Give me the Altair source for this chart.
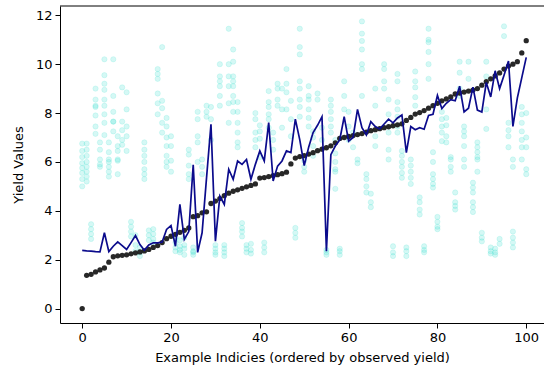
import altair as alt
import pandas as pd

# Observed yield per example, already sorted ascending (index 0..100)
observed_yield = [
    0.00, 1.36, 1.40, 1.50, 1.58, 1.66, 1.90, 2.12, 2.16, 2.18,
    2.20, 2.24, 2.28, 2.32, 2.36, 2.42, 2.50, 2.58, 2.70, 2.86,
    2.96, 3.04, 3.12, 3.20, 3.30, 3.76, 3.80, 3.92, 3.96, 4.30,
    4.40, 4.50, 4.62, 4.72, 4.80, 4.86, 4.92, 4.98, 5.04, 5.10,
    5.34, 5.36, 5.40, 5.44, 5.48, 5.52, 5.58, 5.92, 6.16, 6.22,
    6.26, 6.32, 6.38, 6.46, 6.52, 6.58, 6.66, 6.78, 6.96, 7.00,
    7.04, 7.08, 7.12, 7.16, 7.22, 7.28, 7.32, 7.36, 7.40, 7.44,
    7.48, 7.52, 7.56, 7.70, 7.82, 7.96, 8.02, 8.10, 8.20, 8.30,
    8.40, 8.50, 8.58, 8.66, 8.78, 8.82, 8.86, 8.90, 8.94, 9.00,
    9.14, 9.28, 9.40, 9.52, 9.64, 9.80, 9.92, 10.00, 10.10, 10.46,
    10.96,
]

# Mean predicted yield for the same examples
predicted_yield = [
    2.38, 2.36, 2.35, 2.33, 2.32, 3.10, 2.33, 2.55, 2.73, 2.58,
    2.42, 2.70, 2.99, 2.62, 2.39, 2.60, 2.69, 2.69, 2.72, 3.24,
    3.40, 2.55, 4.26, 2.83, 3.15, 5.88, 2.30, 3.10, 5.35, 7.54,
    2.76, 4.60, 4.26, 5.70, 5.29, 6.04, 5.90, 6.10, 5.29, 5.90,
    6.45, 6.04, 7.61, 5.22, 5.83, 6.04, 6.45, 6.38, 7.75, 6.90,
    5.85, 6.60, 7.20, 7.50, 7.85, 2.35, 6.30, 6.65, 6.90, 7.85,
    6.85, 7.00, 8.15, 7.40, 7.10, 7.65, 7.45, 7.35, 7.55, 7.75,
    7.60, 7.80, 7.92, 6.38, 7.45, 7.32, 7.40, 7.34, 7.90, 7.95,
    8.72, 8.18, 8.40, 8.55, 8.50, 9.10, 8.05, 8.20, 9.06, 8.12,
    8.04, 9.25, 8.66, 9.73, 9.00, 9.55, 10.13, 7.45, 8.62, 9.45,
    10.28,
]

# Individual predicted samples per example: (index, [values])
samples_low = [
    (0, [6.75, 6.45, 6.2, 5.95, 5.75, 5.55, 5.3, 5.0]),
    (1, [6.75, 6.5, 6.25, 6.0, 5.8, 5.6, 5.4, 5.2]),
    (2, [3.45, 3.25, 3.05, 2.85]),
    (3, [9.0, 8.55, 8.3, 8.25, 7.9, 7.45, 7.15]),
    (4, [6.8, 6.5, 6.1, 5.9, 5.8]),
    (5, [10.2, 9.55, 9.2, 8.95, 8.55, 8.3, 7.95, 7.6, 7.1]),
    (6, [6.8, 6.4, 6.1, 6.0, 5.8, 5.6, 5.4]),
    (7, [10.2, 8.7, 8.05, 7.65, 7.65, 7.25]),
    (8, [7.05, 6.65, 6.45, 6.1, 6.05, 5.5]),
    (9, [9.05, 7.65, 7.3, 6.9, 6.7]),
    (10, [8.85, 8.15, 7.45, 7.05, 6.45]),
    (11, [3.55, 3.35, 3.15, 2.95]),
    (12, [3.0, 2.6, 2.35]),
    (13, [2.5, 2.3, 2.15]),
    (14, [6.8, 6.5, 6.25, 6.0, 5.7, 5.5, 5.3]),
    (15, [3.2, 3.0, 2.8]),
    (16, [3.25, 3.05, 2.85, 2.7]),
    (17, [9.8, 9.6, 9.4, 8.8, 8.4, 7.95]),
    (18, [10.7, 8.5, 8.2, 7.6, 7.2]),
    (19, [7.8, 7.45, 7.0, 6.65, 6.25, 6.0, 5.8]),
    (20, [7.05, 6.65, 6.05, 5.6]),
    (21, [2.9, 2.7, 2.5, 2.35]),
    (22, [2.8, 2.55, 2.4, 2.3]),
    (23, [2.9, 2.6, 2.45, 2.2]),
    (24, [6.5, 6.3, 5.85, 5.5, 5.3]),
    (25, [2.5, 2.35, 2.3, 2.2]),
    (26, [8.05, 7.75, 7.05, 6.8, 6.0]),
    (27, [6.1, 5.8, 5.5]),
    (28, [8.3, 8.05, 7.85]),
    (29, [8.25, 7.75, 6.9]),
    (30, [2.6, 2.45, 2.3, 2.2]),
    (31, [10.0, 9.5, 9.3, 9.1, 8.7, 8.3]),
    (32, [2.6, 2.45, 2.3, 2.15]),
]

samples_mid = [
    (33, [11.45, 10.0, 9.5, 9.1, 8.4, 7.6]),
    (34, [10.6, 10.1, 9.5, 9.3, 9.1, 8.7, 8.45, 8.05]),
    (35, [8.45, 8.05, 7.6, 7.2, 6.8, 6.6]),
    (36, [3.5, 3.3, 3.15, 2.95]),
    (37, [2.6, 2.45, 2.3]),
    (38, [2.65, 2.4, 2.25]),
    (39, [8.0, 7.75, 7.2, 6.9, 6.6]),
    (40, [7.5, 7.25, 6.95, 6.2]),
    (41, [2.7, 2.5, 2.3]),
    (42, [8.9, 8.45, 8.25, 7.95, 7.75, 7.4]),
    (43, [7.2, 6.9, 6.5]),
    (44, [9.2, 9.0, 8.55, 8.3]),
    (45, [9.0, 8.15, 7.4]),
    (46, [9.8, 9.2, 8.85, 8.15]),
    (47, [8.5, 7.75, 7.05]),
    (48, [3.3, 3.1, 2.9]),
    (49, [11.45, 10.7, 10.4, 9.3, 9.0, 8.55, 8.25, 7.85]),
    (50, [6.05, 5.8, 5.6]),
    (51, [9.1, 8.7, 8.55, 8.15, 7.8, 7.45]),
    (52, [7.25, 7.0, 6.65, 6.25]),
    (53, [8.8, 8.55]),
    (54, [7.4, 6.9]),
    (55, [2.4, 2.3, 2.2]),
    (56, [8.55, 8.3, 8.05, 7.75, 7.45, 7.2]),
    (57, [6.9, 6.35, 6.0, 5.7, 5.6, 4.9]),
    (58, [2.45, 2.35, 2.2]),
    (59, [9.3, 8.7, 8.15]),
    (60, [8.05, 7.45, 6.9]),
    (61, [7.2, 6.6]),
    (62, [6.1, 5.95]),
    (63, [11.75, 11.25, 10.95, 10.6, 10.0, 9.8, 8.7]),
    (64, [5.5, 5.3, 5.0, 4.75]),
    (65, [4.7, 4.35, 4.15]),
    (66, [9.0, 8.3, 7.05, 6.65]),
]

samples_high = [
    (68, [10.0, 9.8, 9.3, 9.0]),
    (69, [8.55, 7.95, 7.2, 6.5, 6.1]),
    (70, [2.55, 2.3, 2.15]),
    (71, [9.6, 9.3, 8.45, 8.15, 7.85, 7.45, 7.2]),
    (72, [6.45, 6.25, 6.0, 5.8, 5.55, 5.35]),
    (73, [2.5, 2.35, 2.15]),
    (74, [6.1, 5.85, 5.6, 5.35, 5.1]),
    (75, [9.7, 9.3, 9.05, 8.65, 8.3]),
    (76, [4.55, 4.35, 4.05, 3.85]),
    (77, [2.55, 2.4, 2.3]),
    (78, [11.45, 11.0, 10.9, 10.5, 10.0, 9.4]),
    (79, [6.4, 6.0, 5.5, 5.3, 5.1, 4.95]),
    (80, [3.75, 3.55, 3.35, 3.25]),
    (81, [8.05, 7.75, 7.45, 7.2, 6.85]),
    (82, [7.8, 7.5, 7.05, 6.8]),
    (83, [6.2, 6.1, 5.8, 5.6]),
    (84, [4.75, 4.35, 4.2, 4.05]),
    (85, [10.1, 9.65, 9.0, 8.7]),
    (86, [7.45, 7.25, 7.05, 6.65, 6.1, 5.8]),
    (87, [10.1, 9.4]),
    (88, [5.15, 4.95, 4.75, 4.35, 4.15, 3.95]),
    (89, [6.8, 6.6, 6.4, 6.2, 6.1, 5.6]),
    (90, [3.1, 2.9, 2.75]),
    (91, [10.1, 9.5, 8.15, 7.35]),
    (92, [2.5, 2.35, 2.25]),
    (93, [2.45, 2.3, 2.2]),
    (94, [2.85, 2.65]),
    (95, [11.55, 11.15]),
    (96, [7.6, 7.3, 7.05, 6.6]),
    (97, [6.1, 5.8, 3.15, 2.9, 2.7, 2.5]),
    (99, [8.25, 7.95, 7.6, 7.25, 6.9, 6.6, 6.1]),
    (100, [8.0, 7.0, 6.6, 5.7, 5.5]),
]

x_ticks = [0, 20, 40, 60, 80, 100]
y_ticks = [0, 2, 4, 6, 8, 10, 12]

idx = list(range(len(observed_yield)))
main_df = pd.DataFrame({"idx": idx, "observed": observed_yield, "predicted": predicted_yield})

sample_rows = []
for group in (samples_low, samples_mid, samples_high):
    for i, values in group:
        for v in values:
            sample_rows.append({"idx": i, "sample": v})
sample_df = pd.DataFrame(sample_rows)

FONT = "DejaVu Sans"
x_scale = alt.Scale(domain=[-5, 104], nice=False, zero=False)
y_scale = alt.Scale(domain=[-0.59, 12.38], nice=False, zero=False)

x_axis = alt.Axis(
    values=x_ticks, title="Example Indicies (ordered by observed yield)",
    grid=False, domainColor="black", tickColor="black", tickSize=5,
    labelColor="black", labelFontSize=13, labelFont=FONT, labelPadding=3,
    titleFont=FONT, titleFontSize=13, titleFontWeight="normal",
    titleColor="black", titlePadding=7, labelFlush=False,
)
y_axis = alt.Axis(
    values=y_ticks, title="Yield Values", format="d",
    grid=False, domainColor="black", tickColor="black", tickSize=5,
    labelColor="black", labelFontSize=13, labelFont=FONT, labelPadding=3,
    titleFont=FONT, titleFontSize=13, titleFontWeight="normal",
    titleColor="black", titlePadding=10, labelFlush=False,
)

# translucent sample dots: fill and outline share the colour, so the rim reads a little darker
samples_layer = alt.Chart(sample_df).mark_circle(
    size=28, fill="#40E0D0", fillOpacity=0.22,
    stroke="#40E0D0", strokeOpacity=0.16, strokeWidth=1,
).encode(
    x=alt.X("idx:Q", scale=x_scale, axis=x_axis),
    y=alt.Y("sample:Q", scale=y_scale, axis=y_axis),
)

observed_layer = alt.Chart(main_df).mark_circle(
    size=28, color="#1c1c1c", opacity=0.95
).encode(
    x=alt.X("idx:Q", scale=x_scale),
    y=alt.Y("observed:Q", scale=y_scale),
)

predicted_layer = alt.Chart(main_df).mark_line(
    color="#0b0b8c", strokeWidth=1.7
).encode(
    x=alt.X("idx:Q", scale=x_scale),
    y=alt.Y("predicted:Q", scale=y_scale),
)

# top frame line
top_frame = alt.Chart(alt.Data(values=[{}])).mark_rule(
    color="black", strokeWidth=1
).encode(x=alt.value(0), x2=alt.value(484), y=alt.value(0))

chart = alt.layer(
    samples_layer, observed_layer, predicted_layer, top_frame
).properties(
    width=484, height=317,
    autosize=alt.AutoSizeParams(type="none"),
    padding={"left": 60, "top": 6, "right": 0, "bottom": 50},
    background="white",
).configure_view(stroke=None)

chart.save("out.html", embed_options={"renderer": "svg", "actions": False})
